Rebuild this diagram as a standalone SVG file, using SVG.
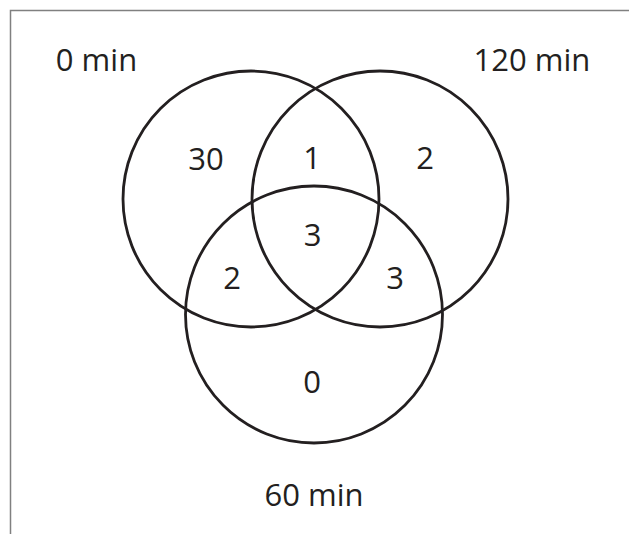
<svg xmlns="http://www.w3.org/2000/svg" width="629" height="534" viewBox="0 0 629 534">
<style>
.c{fill:none;stroke:#231f20;stroke-width:2.8}
.t{font-family:"Open Sans","Noto Sans","Liberation Sans",sans-serif;font-size:31px;fill:#231f20;text-anchor:middle}
.b{fill:none;stroke:#808080;stroke-width:1.5}
</style>
<rect width="629" height="534" fill="#ffffff"/>
<path class="b" d="M10.5,534 V10.5 H629"/>
<g id="set-0min">
<circle class="c" cx="251" cy="199" r="128"/>
<text class="t" x="96.5" y="71">0 min</text>
</g>
<g id="set-120min">
<circle class="c" cx="380" cy="199" r="128"/>
<text class="t" x="532" y="71">120 min</text>
</g>
<g id="set-60min">
<circle class="c" cx="314" cy="314.5" r="128.5"/>
<text class="t" x="314" y="506">60 min</text>
</g>
<g id="counts">
<text class="t" x="206" y="170">30</text>
<text class="t" x="312" y="169">1</text>
<text class="t" x="425" y="169">2</text>
<text class="t" x="312.5" y="246">3</text>
<text class="t" x="232" y="289">2</text>
<text class="t" x="395" y="289">3</text>
<text class="t" x="312" y="393">0</text>
</g>
<g id="connectors"/>
</svg>
